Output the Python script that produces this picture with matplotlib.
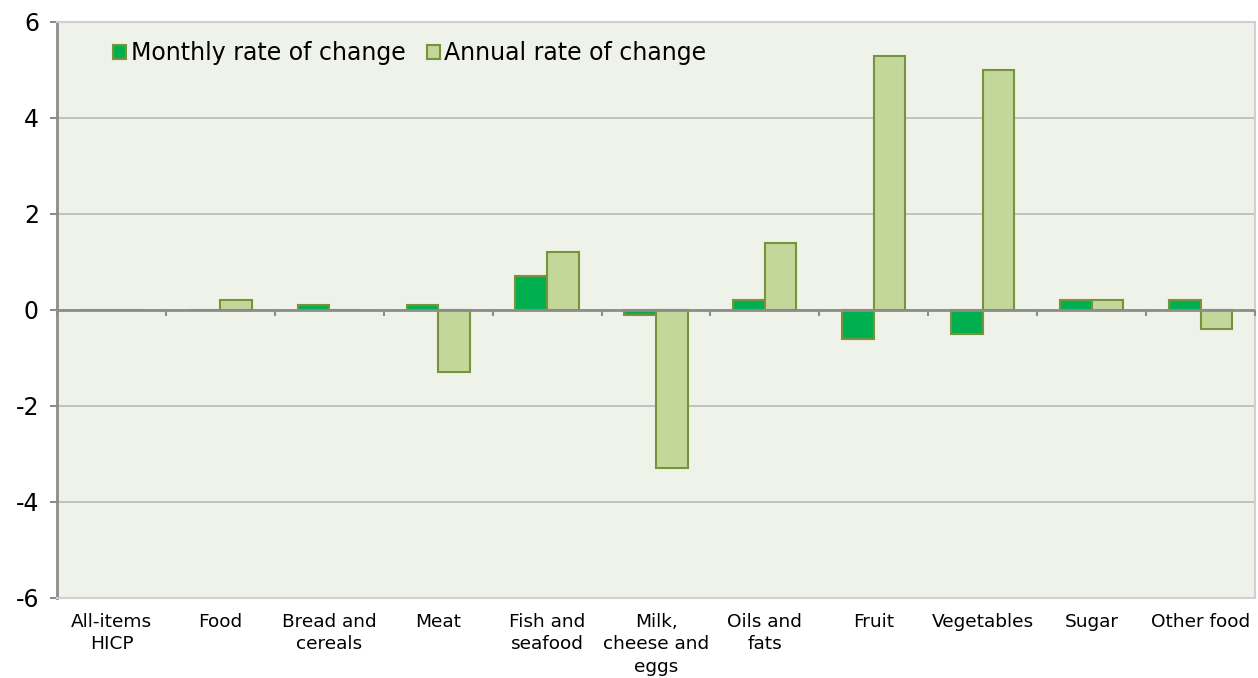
import matplotlib
matplotlib.use("Agg")
import matplotlib.pyplot as plt
import numpy as np

categories = ["All-items\nHICP", "Food", "Bread and\ncereals", "Meat", "Fish and\nseafood",
              "Milk,\ncheese and\neggs", "Oils and\nfats", "Fruit", "Vegetables", "Sugar", "Other food"]
monthly = [0.0, 0.0, 0.1, 0.1, 0.7, -0.1, 0.2, -0.6, -0.5, 0.2, 0.2]
annual = [0.0, 0.2, 0.0, -1.3, 1.2, -3.3, 1.4, 5.3, 5.0, 0.2, -0.4]
yticks = [-6, -4, -2, 0, 2, 4, 6]

fig = plt.figure(figsize=(12.58, 6.78), dpi=100)
ax = fig.add_axes([0.0453, 0.118, 0.9523, 0.8496])
bg = "#EFF2E8"
ax.set_facecolor(bg)

x = np.arange(len(categories))
w = 0.29
edge = "#77933C"
ax.bar(x - w / 2, monthly, w, color="#00B050", edgecolor=edge, linewidth=1.5,
       label="Monthly rate of change", zorder=3)
ax.bar(x + w / 2, annual, w, color="#C4D79B", edgecolor=edge, linewidth=1.5,
       label="Annual rate of change", zorder=3)

ax.set_xlim(-0.5, len(categories) - 0.5)
ax.set_ylim(-6, 6)
ax.set_yticks(yticks)
ax.set_yticklabels([str(v) for v in yticks], fontsize=17)
ax.yaxis.grid(True, color="#BDBDBD", linewidth=1.3, zorder=0)
ax.set_axisbelow(True)
ax.axhline(0, color="#8C8C8C", linewidth=2, zorder=4)

# category boundary tick marks on the zero line
bounds = np.arange(len(categories) + 1) - 0.5
ax.vlines(bounds, -0.12, 0, color="#8C8C8C", linewidth=1.5, zorder=4, clip_on=False)

ax.set_xticks(x)
ax.set_xticklabels(categories, fontsize=13.3, linespacing=1.3)
ax.tick_params(axis="x", length=0, pad=11)
ax.tick_params(axis="y", length=5, width=1.5, color="#8C8C8C", pad=8)

for side in ["top", "right", "bottom"]:
    ax.spines[side].set_color("#D0D0D0")
    ax.spines[side].set_linewidth(1.5)
ax.spines["left"].set_color("#8C8C8C")
ax.spines["left"].set_linewidth(2)

leg = ax.legend(loc="upper left", bbox_to_anchor=(0.029, 1.003), ncol=2, frameon=False,
                fontsize=17, handlelength=0.55, handleheight=0.55, handletextpad=0.2,
                columnspacing=0.9)

fig.savefig("out.png", dpi=100, facecolor="white")
